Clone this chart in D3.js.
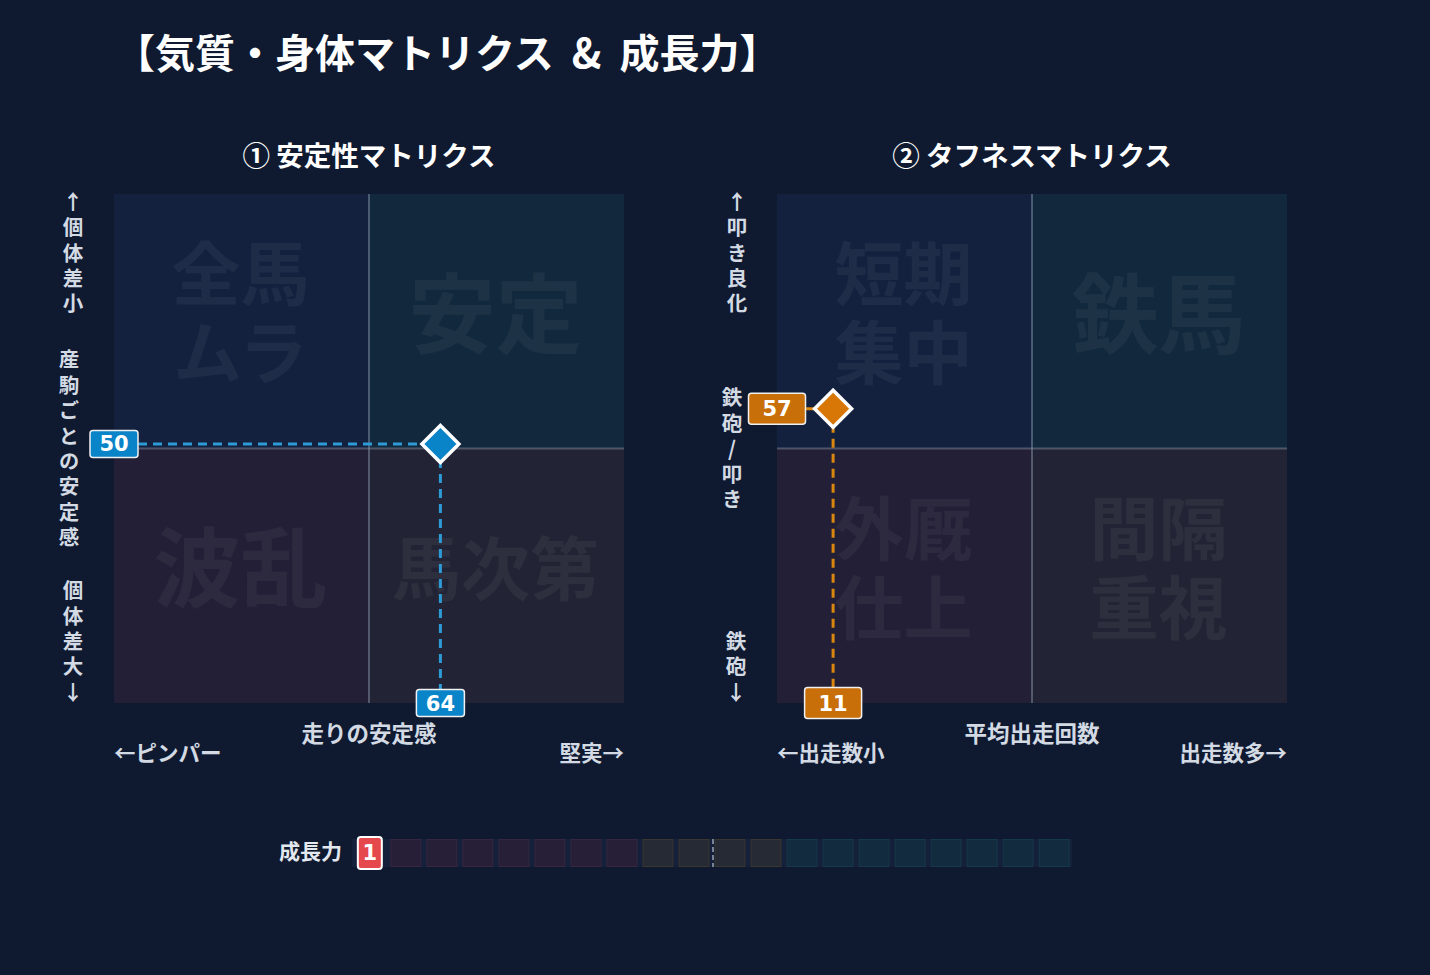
<!DOCTYPE html>
<html><head><meta charset="utf-8">
<script src="https://cdn.jsdelivr.net/npm/d3@7/dist/d3.min.js"></script>
<style>
html,body{margin:0;padding:0;background:#0f1a30;}
svg{display:block;font-family:"Noto Sans CJK JP","DejaVu Sans",sans-serif;}
.num{font-family:"DejaVu Sans","Noto Sans CJK JP",sans-serif;}
.vt{writing-mode:vertical-rl;text-orientation:upright;}
.ql{font-family:"Noto Sans CJK JP",sans-serif;font-weight:bold;text-align:center;color:rgba(255,255,255,0.05);margin:0;padding:0;}
</style></head>
<body>
<svg id="c" width="1430" height="975"></svg>
<script>
// ---- data ----
const mainTitle = "【気質・身体マトリクス & 成長力】";
const matrixTitles = ["① 安定性マトリクス", "② タフネスマトリクス"];
const xValues = [64, 11];
const yValues = [50.9, 57.8];
const quadrantLabels = [
  {tl:["全馬","ムラ"], tr:["安定"], bl:["波乱"], br:["馬次第"]},
  {tl:["短期","集中"], tr:["鉄馬"], bl:["外厩","仕上"], br:["間隔","重視"]}
];
const xTitles = ["走りの安定感", "平均出走回数"];
const xLeftLabels = ["←ピンパー", "←出走数小"];
const xRightLabels = ["堅実→", "出走数多→"];
const yTopLabels = ["↑個体差小", "↑叩き良化"];
const yMidLabels = ["産駒ごとの安定感", "鉄砲/叩き"];
const yBotLabels = ["個体差大↓", "鉄砲↓"];
const markerColors = ["#0a84c8", "#d97706"];
const badgeColors = ["#0a84c8", "#c96f0a"];
const lineColors = ["#2f9bd6", "#d9870f"];
const growthLabel = "成長力";
const growthValue = 1;
const growthSteps = d3.range(1, 21);
const growthZones = [
  {from:1, to:8, fill:"#271f37", stroke:"#372640"},
  {from:9, to:12, fill:"#262a35", stroke:"#3a3630"},
  {from:13, to:20, fill:"#122b3f", stroke:"#173848"}
];

// ---- drawing ----
const svg = d3.select("#c");
const white = "#ffffff";
const textCol = "#d3dae4";

// title, with wider spacing around the ampersand
const titleParts = mainTitle.split(" & ");
const tt = svg.append("text").attr("x",115).attr("y",68).attr("fill",white)
  .attr("font-size",40).attr("font-weight","bold");
tt.append("tspan").text(titleParts[0]);
tt.append("tspan").attr("dx",18).text("&");
tt.append("tspan").attr("dx",18).text(titleParts[1]);

const frames = [{x0:114,x1:624,y0:194,y1:703},{x0:777,x1:1287,y0:194,y1:703}];
const quadFills = {tl:"#13213f", tr:"#12283c", bl:"#221f36", br:"#222435"};
const badgeDims = [{w:48,h:27},{w:57,h:31}];
const yLabelX = [{top:73,mid:69,bot:73},{top:737,mid:732,bot:736}];
const stackFs = 20.5, stackStep = 25.4;

frames.forEach((f,i)=>{
  const x = d3.scaleLinear().domain([0,100]).range([f.x0,f.x1]);
  const y = d3.scaleLinear().domain([0,100]).range([f.y1,f.y0]);
  const g = svg.append("g");
  const cx = (f.x0+f.x1)/2;
  // title
  g.append("text").attr("x",cx).attr("y",166).attr("text-anchor","middle")
    .attr("fill",white).attr("font-size",27.5).attr("font-weight","bold").text(matrixTitles[i]);
  // quadrants
  const quads = [
    {k:"tl",x0:0,x1:50,y0:50,y1:100},{k:"tr",x0:50,x1:100,y0:50,y1:100},
    {k:"bl",x0:0,x1:50,y0:0,y1:50},{k:"br",x0:50,x1:100,y0:0,y1:50}];
  g.selectAll("rect.q").data(quads).join("rect").attr("class","q")
    .attr("x",d=>x(d.x0)).attr("y",d=>y(d.y1))
    .attr("width",d=>x(d.x1)-x(d.x0)).attr("height",d=>y(d.y0)-y(d.y1))
    .attr("fill",d=>quadFills[d.k]);
  // quadrant labels
  quads.forEach(q=>{
    const lines = quadrantLabels[i][q.k];
    const qx = (x(q.x0)+x(q.x1))/2 - 1;
    const qy = (y(q.y0)+y(q.y1))/2 - 6;
    if(lines.length===2){
      const fs=69, lh=79, w=x(q.x1)-x(q.x0);
      const fo = g.append("foreignObject").attr("x",qx-w/2).attr("y",qy-84).attr("width",w).attr("height",lh*2+10);
      const div = fo.append("xhtml:div").attr("class","ql")
        .style("font-size",fs+"px").style("line-height",lh+"px");
      lines.forEach((l,j)=>{ if(j) div.append("xhtml:br"); div.append("xhtml:span").text(l); });
    } else {
      const fs = lines[0].length>=3 ? 69 : 87;
      g.append("text").attr("text-anchor","middle").attr("font-weight","bold")
        .attr("font-size",fs).attr("fill","rgba(255,255,255,0.05)")
        .attr("x",qx).attr("y",qy+fs*0.36).text(lines[0]);
    }
  });
  // midlines
  g.append("line").attr("x1",x(50)).attr("x2",x(50)).attr("y1",y(100)).attr("y2",y(0))
    .attr("stroke","rgba(160,175,195,0.4)").attr("stroke-width",2);
  g.append("line").attr("x1",x(0)).attr("x2",x(100)).attr("y1",y(50)).attr("y2",y(50))
    .attr("stroke","rgba(160,165,185,0.4)").attr("stroke-width",2);
  // y-axis labels (vertical text)
  const drawStack = (str, xx, centerFirst) => {
    g.append("text").attr("class","vt").attr("x",xx).attr("y",centerFirst - stackFs/2)
      .attr("fill",textCol).attr("font-size",stackFs).attr("font-weight","bold")
      .attr("letter-spacing",stackStep-stackFs).text(str);
  };
  drawStack(yTopLabels[i], yLabelX[i].top, 202);
  const nMid = Array.from(yMidLabels[i]).length;
  drawStack(yMidLabels[i], yLabelX[i].mid, y(50) - (nMid-1)*stackStep/2);
  const nBot = Array.from(yBotLabels[i]).length;
  drawStack(yBotLabels[i], yLabelX[i].bot, 692 - (nBot-1)*stackStep);
  // x-axis labels
  g.append("text").attr("x",cx).attr("y",742).attr("text-anchor","middle").attr("fill",textCol)
    .attr("font-size",22.5).attr("font-weight","bold").text(xTitles[i]);
  g.append("text").attr("x",f.x0).attr("y",761).attr("text-anchor","start").attr("fill",textCol)
    .attr("font-size",21.5).attr("font-weight","bold").text(xLeftLabels[i]);
  g.append("text").attr("x",f.x1).attr("y",761).attr("text-anchor","end").attr("fill",textCol)
    .attr("font-size",21.5).attr("font-weight","bold").text(xRightLabels[i]);
  // marker + guides
  const mx = x(xValues[i]), my = y(yValues[i]);
  const bd = badgeDims[i];
  g.append("line").attr("x1",x(0)+bd.w/2).attr("x2",mx).attr("y1",my).attr("y2",my)
    .attr("stroke",lineColors[i]).attr("stroke-width",3).attr("stroke-dasharray","9,6");
  g.append("line").attr("x1",mx).attr("x2",mx).attr("y1",my).attr("y2",y(0)-bd.h/2)
    .attr("stroke",lineColors[i]).attr("stroke-width",3).attr("stroke-dasharray","9,6");
  const r = 18.5;
  g.append("path").attr("d",`M${mx},${my-r}L${mx+r},${my}L${mx},${my+r}L${mx-r},${my}Z`)
    .attr("fill",markerColors[i]).attr("stroke",white).attr("stroke-width",3.5).attr("stroke-linejoin","miter");
  // badges
  const badge = (bx, by, val) => {
    g.append("rect").attr("x",bx-bd.w/2).attr("y",by-bd.h/2).attr("width",bd.w).attr("height",bd.h)
      .attr("rx",3).attr("fill",badgeColors[i]).attr("stroke","#f0f0f0").attr("stroke-width",1.5);
    g.append("text").attr("class","num").attr("x",bx).attr("y",by+7.5).attr("text-anchor","middle").attr("fill",white)
      .attr("font-size",21).attr("font-weight","bold").text(val);
  };
  badge(x(0), my, Math.floor(yValues[i]));
  badge(mx, y(0), Math.floor(xValues[i]));
});

// ---- growth bar ----
const gb = svg.append("g");
const gx = d3.scaleBand().domain(growthSteps).range([352,1072]).paddingInner(0.17).paddingOuter(0.08);
const gy0 = 839, gh = 28;
gb.append("rect").attr("x",352).attr("y",gy0).attr("width",720).attr("height",gh).attr("fill","#15203a");
const zoneOf = s => growthZones.find(z=>s>=z.from && s<=z.to);
gb.selectAll("rect.cell").data(growthSteps.filter(s=>s!==growthValue)).join("rect").attr("class","cell")
  .attr("x",d=>gx(d)).attr("y",gy0+0.5).attr("width",gx.bandwidth()).attr("height",gh-1)
  .attr("fill",d=>zoneOf(d).fill).attr("stroke",d=>zoneOf(d).stroke).attr("stroke-width",1);
// center dashed line
const midX = gx(11) - gx.step()*gx.paddingInner()/2 + 1;
gb.append("line").attr("x1",midX).attr("x2",midX).attr("y1",gy0).attr("y2",gy0+gh)
  .attr("stroke","#9aa3b0").attr("stroke-width",1.5).attr("stroke-dasharray","5,3");
// value badge
const bcx = gx(growthValue)+gx.bandwidth()/2;
gb.append("rect").attr("x",bcx-12).attr("y",837).attr("width",24).attr("height",32).attr("rx",3)
  .attr("fill","#e5484d").attr("stroke",white).attr("stroke-width",2);
gb.append("text").attr("class","num").attr("x",bcx).attr("y",860).attr("text-anchor","middle").attr("fill",white)
  .attr("font-size",21).attr("font-weight","bold").text(growthValue);
gb.append("text").attr("x",342).attr("y",859).attr("text-anchor","end").attr("fill","#e3e8ef")
  .attr("font-size",21).attr("font-weight","bold").text(growthLabel);
</script>
</body></html>
